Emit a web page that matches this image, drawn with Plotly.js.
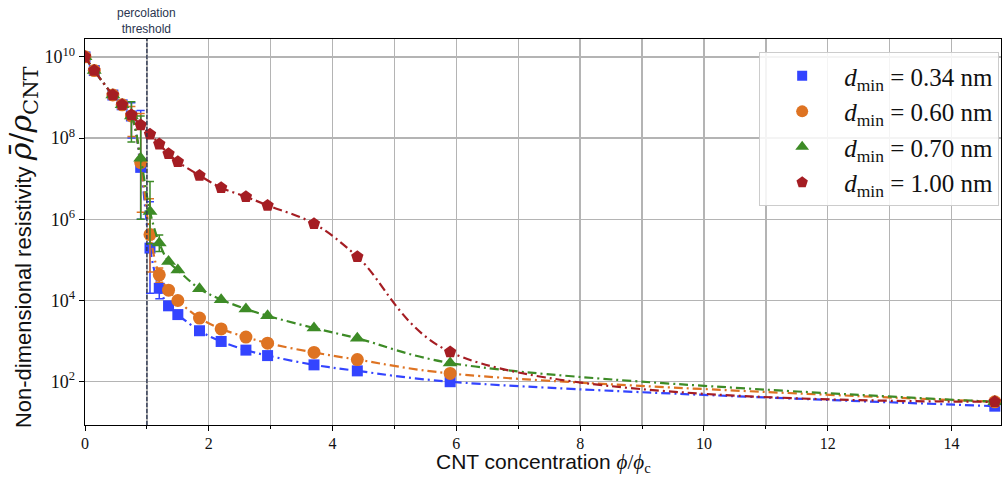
<!DOCTYPE html>
<html><head><meta charset="utf-8">
<script src="https://cdn.plot.ly/plotly-3.0.1.min.js"></script>
<style>html,body{margin:0;padding:0;background:#fff}</style>
</head><body><div id="chart" style="width:1003px;height:477px"></div>
<script>
// CNT concentration phi/phi_c
const concentration = [0, 0.15, 0.45, 0.6, 0.75, 0.9, 1.05, 1.2, 1.35, 1.5, 1.85, 2.2, 2.6, 2.95, 3.7, 4.4, 5.9, 14.7];

// Non-dimensional resistivity per d_min
const rho034 = [1e10, 4.6e9, 1.15e9, 6.6e8, 3.5e8, 1.9e7, 1.95e5, 2.0e4, 7.4e3, 4.5e3, 1.8e3, 980, 600, 440, 260, 185, 100, 25];
const rho060 = [1e10, 4.6e9, 1.15e9, 6.6e8, 3.5e8, 2.5e7, 4.2e5, 4.3e4, 1.8e4, 1.0e4, 3.7e3, 2.0e3, 1.26e3, 890, 525, 350, 160, 32];
const rho070 = [1e10, 4.6e9, 1.15e9, 6.6e8, 3.5e8, 3.2e7, 1.55e6, 2.6e5, 9.1e4, 5.6e4, 1.95e4, 1.05e4, 6.2e3, 4.2e3, 2.1e3, 1.17e3, 290, 32];
const rho100 = [1e10, 4.6e9, 1.15e9, 6.6e8, 3.7e8, 2.1e8, 1.25e8, 7.1e7, 4.1e7, 2.6e7, 1.2e7, 6.0e6, 3.6e6, 2.2e6, 7.8e5, 1.2e5, 540, 32];

// error bars (upper / lower)
const err034Up   = [0, 0, 0, 0, 3.9e8, 4.6e8, 2.5e6, 1.5e4, 0, 0, 0, 0, 0, 0, 0, 0, 0, 0];
const err034Down = [0, 0, 0, 0, 2.5e8, 1.8e7, 1.8e5, 0.9e4, 0, 0, 0, 0, 0, 0, 0, 0, 0, 0];
const err060Up   = [0, 0, 0, 0, 2.5e8, 3.8e8, 2.8e6, 2.0e4, 0, 0, 0, 0, 0, 0, 0, 0, 0, 0];
const err060Down = [0, 0, 0, 0, 2.4e8, 2.35e7, 3.7e5, 1.5e4, 0, 0, 0, 0, 0, 0, 0, 0, 0, 0];
const err070Up   = [0, 0, 0, 0, 4.4e8, 3.2e8, 7.0e6, 1.5e5, 0, 0, 0, 0, 0, 0, 0, 0, 0, 0];
const err070Down = [0, 0, 0, 0, 2.7e8, 3.1e7, 1.3e6, 1.0e5, 0, 0, 0, 0, 0, 0, 0, 0, 0, 0];
const err100Up   = [0, 0, 0, 0, 0, 0, 0, 0, 0, 0, 0, 0, 0, 0, 0, 0, 0, 0];
const err100Down = [0, 0, 0, 0, 0, 0, 0, 0, 0, 0, 0, 0, 0, 0, 0, 0, 0, 0];

const seriesNames = ['0.34', '0.60', '0.70', '1.00'];
const yTickVals = [1e2, 1e4, 1e6, 1e8, 1e10];
const yTickText = ['10<sup>2</sup>', '10<sup>4</sup>', '10<sup>6</sup>', '10<sup>8</sup>', '10<sup>10</sup>'];
const thresholdX = 1;
const xTitle = 'CNT concentration <span style="font-family:Liberation Serif"><i>ϕ</i>/<i>ϕ</i><sub>c</sub></span>';
const yTitle = 'Non-dimensional resistivity <span style="font-family:DejaVu Serif;font-size:30px"><i>ρ̄</i>/<i>ρ</i><sub>CNT</sub></span>&nbsp;&nbsp;&nbsp;&nbsp;&nbsp;';

const colors = ['#3344ff', '#de7322', '#3d8b26', '#a51d23'];
const symbols = ['square', 'circle', 'triangle-up', 'pentagon'];
const sizes = [11, 13, 13, 13];
const ys = [rho034, rho060, rho070, rho100];
const ups = [err034Up, err060Up, err070Up, err100Up];
const downs = [err034Down, err060Down, err070Down, err100Down];

const serif = 'Liberation Serif, DejaVu Serif, serif';
const sans = 'Liberation Sans, Arial, sans-serif';

const traces = [];
for (let i = 0; i < 4; i++) {
  traces.push({
    x: concentration, y: ys[i], type: 'scatter', mode: 'lines+markers',
    line: {color: colors[i], width: 2.2, dash: '9px,4px,2px,4px', shape: 'spline', smoothing: 1},
    marker: {color: colors[i], symbol: symbols[i], size: sizes[i]},
    error_y: {type: 'data', symmetric: false, array: ups[i], arrayminus: downs[i], color: colors[i], thickness: 1.5, width: 4},
    showlegend: false, hoverinfo: 'skip'
  });
}
for (let i = 0; i < 4; i++) {
  traces.push({
    x: [null], y: [null], type: 'scatter', mode: 'markers',
    marker: {color: colors[i], symbol: symbols[i], size: sizes[i] - 1},
    name: '<i>d</i><sub>min</sub> = ' + seriesNames[i] + ' nm',
    showlegend: true
  });
}

const layout = {
  width: 1003, height: 477,
  margin: {l: 85, r: 2, t: 39, b: 52},
  paper_bgcolor: '#fff', plot_bgcolor: '#fff',
  showlegend: true,
  legend: {
    x: 0.998, y: 0.966, xanchor: 'right', yanchor: 'top',
    bgcolor: 'rgba(255,255,255,0.85)', bordercolor: '#cccccc', borderwidth: 1,
    font: {family: serif, size: 25, color: '#111'},
    itemwidth: 74
  },
  xaxis: {
    range: [0, 14.8], dtick: 2, tick0: 0,
    showline: true, linecolor: '#000', linewidth: 1.3, mirror: true,
    ticks: 'outside', ticklen: 5, tickcolor: '#000', ticklabelstandoff: -2,
    showgrid: true, gridcolor: '#b4b4b4', gridwidth: 1.4, zeroline: false,
    minor: {dtick: 1, tick0: 0, ticks: 'outside', ticklen: 3, tickcolor: '#000', showgrid: true, gridcolor: '#b4b4b4', gridwidth: 1.4},
    tickfont: {family: serif, size: 16, color: '#111'},
    automargin: false
  },
  yaxis: {
    type: 'log', range: [0.934, 10.44],
    tickvals: yTickVals, ticktext: yTickText,
    showline: true, linecolor: '#000', linewidth: 1.3, mirror: true,
    ticks: 'outside', ticklen: 5, tickcolor: '#000',
    showgrid: true, gridcolor: '#b4b4b4', gridwidth: 1.4, zeroline: false,
    tickfont: {family: serif, size: 18, color: '#111'},
    title: {text: yTitle, font: {family: sans, size: 22, color: '#111'}, standoff: 6},
    automargin: false
  },
  shapes: [{type: 'line', xref: 'x', yref: 'paper', x0: thresholdX, x1: thresholdX, y0: 0, y1: 1,
    line: {color: '#2b3550', width: 1.3, dash: '4px,2px'}}],
  annotations: [
    {xref: 'x', yref: 'paper', x: thresholdX, y: 1, yanchor: 'bottom', yshift: 1, showarrow: false,
      text: 'percolation<br>threshold', font: {family: sans, size: 12, color: '#2b3550'}},
    {xref: 'paper', yref: 'paper', x: 0.5, y: 0, xanchor: 'center', yanchor: 'bottom', yshift: -52, borderpad: 0, showarrow: false,
      text: xTitle, font: {family: sans, size: 21, color: '#111'}}
  ]
};

Plotly.newPlot('chart', traces, layout, {displayModeBar: false, staticPlot: true});
</script>
</body></html>
